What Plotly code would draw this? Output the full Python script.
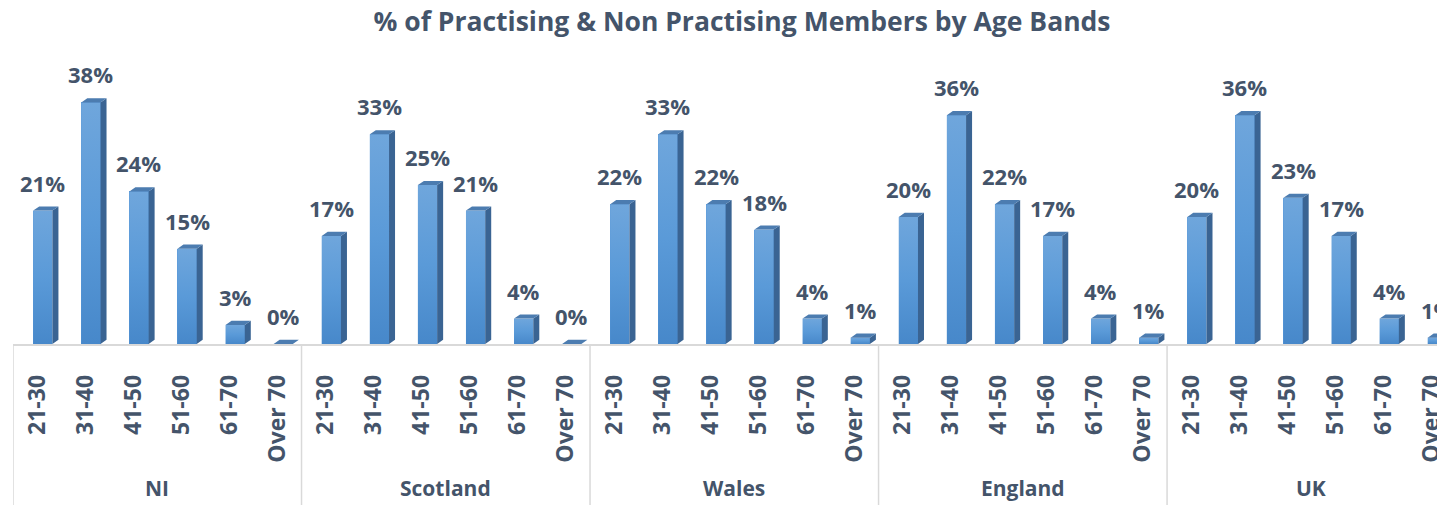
import plotly.graph_objects as go

regions = ["NI", "Scotland", "Wales", "England", "UK"]
age_bands = ["21-30", "31-40", "41-50", "51-60", "61-70", "Over 70"]
ni = [21, 38, 24, 15, 3, 0]
scotland = [17, 33, 25, 21, 4, 0]
wales = [22, 33, 22, 18, 4, 1]
england = [20, 36, 22, 17, 4, 1]
uk = [20, 36, 23, 17, 4, 1]
series = [ni, scotland, wales, england, uk]

TXT = "#44546A"
FONT = "Open Sans"

xs, vals, ticktext = [], [], []
for g, s in enumerate(series):
    for i, v in enumerate(s):
        xs.append(g * len(age_bands) + i)
        vals.append(v)
        ticktext.append(age_bands[i])

# bar geometry (style)
off, w, dep, rise = -0.08, 0.40, 0.125, 0.65

fig = go.Figure()
fig.add_trace(go.Bar(x=xs, y=vals, width=w, offset=off,
                     marker=dict(color="#5898DA", line=dict(width=0)),
                     hoverinfo="skip", showlegend=False))

# gradient front faces drawn over each bar (lighter at top)
for x, v in zip(xs, vals):
    l, r = x + off, x + off + w
    fig.add_trace(go.Scatter(x=[l, r, r, l, l], y=[0, 0, v, v, 0], fill="toself",
                             mode="lines", line=dict(width=0),
                             fillgradient=dict(type="vertical",
                                               colorscale=[[0, "#4788CA"], [0.5, "#5A9AD8"], [1, "#6FA6DC"]]),
                             hoverinfo="skip", showlegend=False))

sx, sy, tx, ty = [], [], [], []
for x, v in zip(xs, vals):
    r = x + off + w
    l = x + off
    sx += [r, r + dep, r + dep, r, r, None]
    sy += [0, rise, v + rise, v, 0, None]
    tx += [l, r, r + dep, l + dep, l, None]
    ty += [v, v, v + rise, v + rise, v, None]
fig.add_trace(go.Scatter(x=sx, y=sy, fill="toself", mode="lines",
                         fillcolor="#3A6493", line=dict(width=0),
                         hoverinfo="skip", showlegend=False))
fig.add_trace(go.Scatter(x=tx, y=ty, fill="toself", mode="lines",
                         fillcolor="#4C7CB0", line=dict(width=0),
                         hoverinfo="skip", showlegend=False))

annotations = []
for x, v in zip(xs, vals):
    annotations.append(dict(x=x + off + w / 2, y=v, text=f"{v}%", showarrow=False,
                            xref="x", yref="y", yanchor="bottom", yshift=11,
                            font=dict(family=FONT, size=22, color=TXT, weight="bold")))
n = len(age_bands)
for g, name in enumerate(regions):
    annotations.append(dict(x=g * n + (n - 1) / 2, y=-0.503, xref="x", yref="paper",
                            text=name, showarrow=False, yanchor="middle",
                            font=dict(family=FONT, size=21, color=TXT, weight="bold")))

shapes = []
for g in range(len(regions) + 1):
    shapes.append(dict(type="line", xref="x", yref="paper", x0=g * n - 0.5, x1=g * n - 0.5,
                       y0=0, y1=-0.6, line=dict(color="#D9D9D9", width=1.5)))

# page body has an 8px margin; figure sized so it fills the 1445x505 window
W, H = 1437, 497
fig.update_layout(
    width=W, height=H,
    margin=dict(l=5, r=0, t=50, b=161, autoexpand=False),
    plot_bgcolor="white", paper_bgcolor="white",
    title=dict(text="% of Practising & Non Practising Members by Age Bands",
               x=734 / W, xanchor="center", xref="container", y=1 - 14 / H, yref="container",
               yanchor="middle", automargin=False,
               font=dict(family=FONT, size=26.5, color=TXT, weight="bold")),
    xaxis=dict(range=[-0.5, 29.28], tickmode="array", tickvals=xs, ticktext=ticktext,
               tickangle=-90, showgrid=False, zeroline=False, showline=True,
               linecolor="#D9D9D9", linewidth=1.5, ticks="", ticklabelstandoff=20,
               automargin=False, ticklabeloverflow="allow",
               tickfont=dict(family=FONT, size=23, color=TXT, weight="bold")),
    yaxis=dict(range=[0, 45], visible=False, automargin=False),
    annotations=annotations, shapes=shapes, bargap=0,
)
fig.write_html("out.html")
